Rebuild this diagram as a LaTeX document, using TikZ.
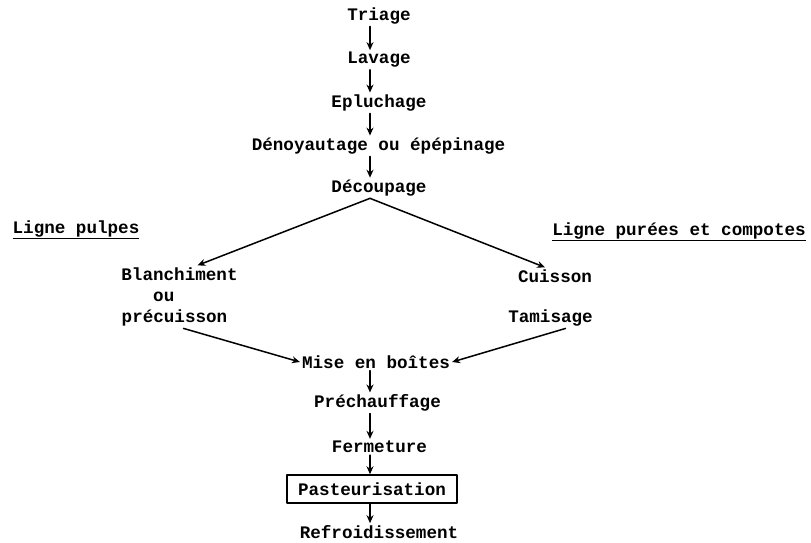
\documentclass[tikz,border=0pt]{standalone}
\usepackage{fontspec}
\setmonofont{Liberation Mono}
\usetikzlibrary{arrows.meta}
\usetikzlibrary{calc}

\tikzset{etape/.style={font=\ttfamily\bfseries\fontsize{17.6}{20}\selectfont,inner sep=2pt},
  fleche/.style={-{Stealth[length=8pt,width=7pt]},line width=1.5pt}}

\begin{document}
\begin{tikzpicture}[line cap=round,line join=round,x=1pt,y=-1pt]
\useasboundingbox (0,0) rectangle (811,542);
\coordinate (axe) at (370,0);
% colonne du haut
\node[etape] (tri) at (379,16) {Triage};
\node[etape] (lav) at (379,60) {Lavage};
\node[etape] (epl) at (379,103) {Epluchage};
\node[etape] (den) at (378.5,146) {Dénoyautage ou épépinage};
\node[etape] (dec) at (379,188) {Découpage};
% les deux lignes
\node[etape] (lpul) at (76,230) {\underline{Ligne pulpes}};
\node[etape] (lpur) at (679,232) {\underline{Ligne purées et compotes}};
\node[etape] (bla) at (179.5,274) {Blanchiment};
\node[etape,anchor=west] (ou) at (151,297) {ou};
\node[etape] (pre) at (174.5,318) {précuisson};
\node[etape] (cui) at (555,276) {Cuisson};
\node[etape] (tam) at (550.5,318) {Tamisage};
% colonne du bas
\node[etape] (mis) at (376,362) {Mise en boîtes};
\node[etape] (prc) at (377.5,403) {Préchauffage};
\node[etape] (fer) at (379.5,447) {Fermeture};
\node[etape,draw,line width=1.5pt,minimum width=170,minimum height=28] (pas) at (372,489) {Pasteurisation};
\node[etape] (ref) at (379,532) {Refroidissement};

\draw[fleche] (tri.south -| axe) -- (lav.north -| axe);
\draw[fleche] (lav.south -| axe) -- (epl.north -| axe);
\draw[fleche] (epl.south -| axe) -- (den.north -| axe);
\draw[fleche] (den.south -| axe) -- (dec.north -| axe);
\draw[fleche] (dec.south -| axe) -- ($(bla.north)+(18,0)$);
\draw[fleche] (dec.south -| axe) -- ($(cui.north)+(-10,0)$);
\draw[fleche] ($(pre.south)+(9,0)$) -- (mis.west);
\draw[fleche] ($(tam.south)+(15,0)$) -- (mis.east);
\draw[fleche] (mis.south -| axe) -- (prc.north -| axe);
\draw[fleche] (prc.south -| axe) -- (fer.north -| axe);
\draw[fleche] (fer.south -| axe) -- (pas.north -| axe);
\draw[fleche] (pas.south -| axe) -- (ref.north -| axe);
\end{tikzpicture}
\end{document}
